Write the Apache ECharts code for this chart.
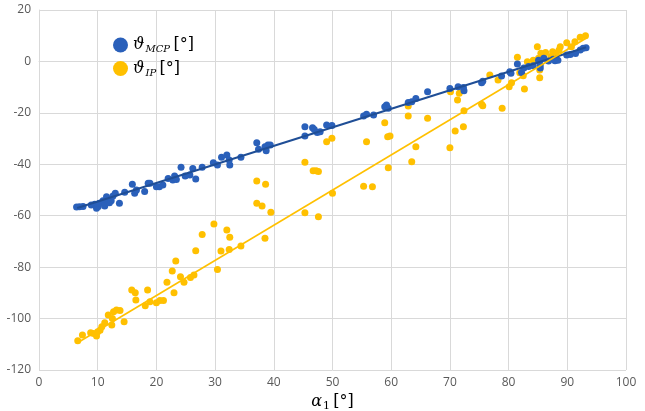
<!DOCTYPE html>
<html>
<head>
<meta charset="utf-8">
<script src="https://cdn.jsdelivr.net/npm/echarts@6/dist/echarts.min.js"></script>
<style>
  html, body { margin: 0; padding: 0; background: #fff; }
  #chart { width: 645px; height: 411px; }
</style>
</head>
<body>
<div id="chart"></div>
<script>
// alpha_1 vs theta_MCP
const mcpPoints = [
  [6.4, -56.6], [6.9, -56.5], [7.5, -56.4], [8.9, -55.8], [9.5, -55.5], [9.8, -57.1],
  [10.1, -56.4], [10.3, -55.2], [10.9, -54.2], [11.2, -56.2], [11.5, -52.6], [11.8, -53.7],
  [12.0, -55.0], [12.3, -54.2], [12.6, -52.3], [13.0, -51.3], [13.7, -55.2], [14.6, -50.9],
  [15.9, -47.8], [16.3, -51.3], [16.6, -50.0], [18.0, -50.6], [18.6, -47.4], [18.9, -47.4],
  [20.0, -48.7], [20.5, -48.7], [21.1, -48.1], [22.0, -45.5], [22.8, -46.1], [23.1, -44.6],
  [23.4, -45.9], [24.2, -41.2], [24.9, -44.6], [25.7, -44.2], [26.2, -41.6], [26.7, -45.7],
  [27.8, -41.2], [29.7, -39.4], [30.4, -40.3], [31.1, -37.3], [32.0, -36.4], [32.4, -38.3],
  [32.5, -40.3], [34.4, -37.3], [37.1, -31.6], [37.4, -34.2], [38.5, -33.2], [38.7, -34.7],
  [39.0, -32.5], [39.4, -32.5], [45.3, -25.4], [45.3, -29.0], [46.6, -25.8], [46.9, -26.5],
  [47.4, -27.6], [47.9, -27.3], [49.0, -24.7], [49.9, -24.9], [55.3, -21.2], [55.8, -20.5],
  [57.0, -20.8], [58.9, -17.6], [59.2, -16.9], [59.5, -18.2], [62.9, -16.0], [63.5, -15.7],
  [64.2, -14.4], [66.2, -11.8], [70.0, -10.5], [71.4, -9.8], [72.3, -10.1], [72.4, -11.4],
  [75.4, -8.3], [75.6, -7.7], [78.8, -5.7], [80.2, -4.0], [80.4, -4.6], [81.5, -1.0],
  [82.2, -4.3], [82.6, -2.6], [83.4, -2.0], [84.2, -1.7], [85.1, 0.5], [85.4, -1.3],
  [85.4, -2.6], [86.0, 1.2], [86.8, 0.2], [87.6, 0.8], [87.9, 0.3], [88.4, 0.5],
  [89.9, 2.5], [90.5, 2.7], [91.4, 3.1], [92.2, 4.4], [92.7, 5.1], [93.2, 5.3]
];

// alpha_1 vs theta_IP
const ipPoints = [
  [6.6, -108.6], [7.4, -106.4], [8.8, -105.5], [9.3, -105.8], [9.8, -106.8], [10.0, -105.1],
  [10.4, -104.5], [10.7, -103.2], [11.2, -101.6], [11.8, -98.6], [12.4, -102.5], [12.5, -100.0],
  [12.7, -97.3], [13.2, -96.7], [13.8, -96.9], [14.5, -101.2], [15.8, -88.9], [16.4, -90.0],
  [16.5, -92.8], [18.1, -95.0], [18.5, -88.9], [18.9, -93.5], [20.0, -93.8], [20.6, -93.0],
  [21.2, -93.0], [21.8, -85.9], [22.7, -81.5], [23.0, -90.0], [23.3, -77.6], [24.1, -83.7],
  [24.7, -85.9], [25.8, -84.0], [26.4, -83.1], [26.7, -73.6], [27.8, -67.3], [29.8, -63.2],
  [30.4, -80.9], [31.0, -73.7], [32.0, -65.6], [32.4, -73.1], [32.5, -68.4], [34.4, -71.8],
  [37.1, -55.2], [38.0, -56.2], [38.5, -68.8], [39.5, -58.7], [37.1, -46.5], [38.6, -47.8],
  [45.3, -58.8], [47.6, -60.4], [45.3, -39.2], [46.7, -42.5], [47.2, -42.5], [47.6, -42.8],
  [49.0, -31.2], [49.9, -29.9], [50.0, -51.3], [55.3, -48.5], [56.8, -48.7], [55.8, -31.2],
  [58.9, -23.8], [59.4, -29.3], [59.8, -29.0], [59.5, -41.3], [62.9, -17.3], [62.9, -21.2],
  [63.5, -39.0], [64.2, -33.2], [66.2, -22.1], [70.0, -33.6], [70.1, -11.8], [70.9, -27.1],
  [71.3, -15.0], [71.6, -12.4], [72.3, -25.4], [72.4, -19.2], [75.4, -16.7], [75.6, -17.2],
  [76.8, -5.3], [78.2, -7.2], [78.9, -18.2], [80.1, -9.8], [80.5, -8.3], [81.5, 1.6],
  [81.9, -4.4], [82.5, -5.6], [82.7, -10.7], [83.2, -0.1], [84.2, 0.5], [84.9, 5.7],
  [85.1, 1.2], [85.3, -3.3], [85.3, -6.3], [85.5, 3.2], [86.0, 2.6], [86.3, 3.5],
  [87.2, 1.9], [87.5, 3.8], [88.0, 3.2], [88.6, 4.4], [88.8, 5.7], [89.9, 7.3],
  [90.7, 5.7], [91.3, 7.7], [92.2, 9.4], [93.1, 10.0]
];

// linear trend lines (end points)
const mcpTrend = [[6.5, -57.0], [93.2, 5.5]];
const ipTrend = [[6.5, -109.5], [93.2, 9.0]];

const xTicks = [0, 10, 20, 30, 40, 50, 60, 70, 80, 90, 100];
const yTicks = [-120, -100, -80, -60, -40, -20, 0, 20];

const blue = '#2A60BA';
const blueLine = '#1F4E96';
const orange = '#FFC000';

const chart = echarts.init(document.getElementById('chart'));

const greek = {
  g: { fontFamily: 'DejaVu Serif', fontStyle: 'italic', fontSize: 16, color: '#000' },
  s: { fontFamily: 'DejaVu Serif', fontStyle: 'italic', fontSize: 10, color: '#000', verticalAlign: 'bottom', padding: [9, 0, 0, 1] },
  n: { fontFamily: 'DejaVu Serif', fontSize: 11, color: '#000', verticalAlign: 'bottom', padding: [9, 0, 0, 1] },
  u: { fontFamily: 'DejaVu Serif', fontSize: 16, color: '#000' }
};

chart.setOption({
  animation: false,
  grid: { left: 39, right: 19, top: 10, bottom: 41, outerBoundsMode: 'none' },
  legend: {
    orient: 'vertical',
    left: 108,
    top: 32,
    itemGap: 6,
    icon: 'circle',
    itemWidth: 15,
    itemHeight: 15,
    data: ['MCP', 'IP'],
    formatter: name => '{g|ϑ}{s|' + name + '} {u|[°]}',
    textStyle: { rich: greek }
  },
  xAxis: {
    type: 'value',
    min: xTicks[0],
    max: xTicks[xTicks.length - 1],
    interval: 10,
    name: '{g|α}{n|1} {u|[°]}',
    nameLocation: 'middle',
    nameGap: 17,
    nameTextStyle: { rich: greek },
    axisLine: { show: true, lineStyle: { color: '#d9d9d9' } },
    axisTick: { show: false },
    axisLabel: { color: '#595959', fontSize: 12, fontFamily: 'Open Sans', margin: 7 },
    splitLine: { show: true, lineStyle: { color: '#d9d9d9' } }
  },
  yAxis: {
    type: 'value',
    min: yTicks[0],
    max: yTicks[yTicks.length - 1],
    interval: 20,
    axisLine: { show: true, lineStyle: { color: '#d9d9d9' } },
    axisTick: { show: false },
    axisLabel: { color: '#595959', fontSize: 12, fontFamily: 'Open Sans', margin: 8 },
    splitLine: { show: true, lineStyle: { color: '#d9d9d9' } }
  },
  series: [
    {
      name: 'MCP',
      type: 'scatter',
      data: mcpPoints,
      symbolSize: 7,
      itemStyle: { color: blue, opacity: 1 },
      z: 3
    },
    {
      name: 'IP',
      type: 'scatter',
      data: ipPoints,
      symbolSize: 7,
      itemStyle: { color: orange, opacity: 1 },
      z: 2
    },
    {
      name: 'MCP trend',
      type: 'line',
      data: mcpTrend,
      showSymbol: false,
      lineStyle: { color: blueLine, width: 2 },
      z: 4
    },
    {
      name: 'IP trend',
      type: 'line',
      data: ipTrend,
      showSymbol: false,
      lineStyle: { color: orange, width: 1.6 },
      z: 4
    }
  ]
});
</script>
</body>
</html>
